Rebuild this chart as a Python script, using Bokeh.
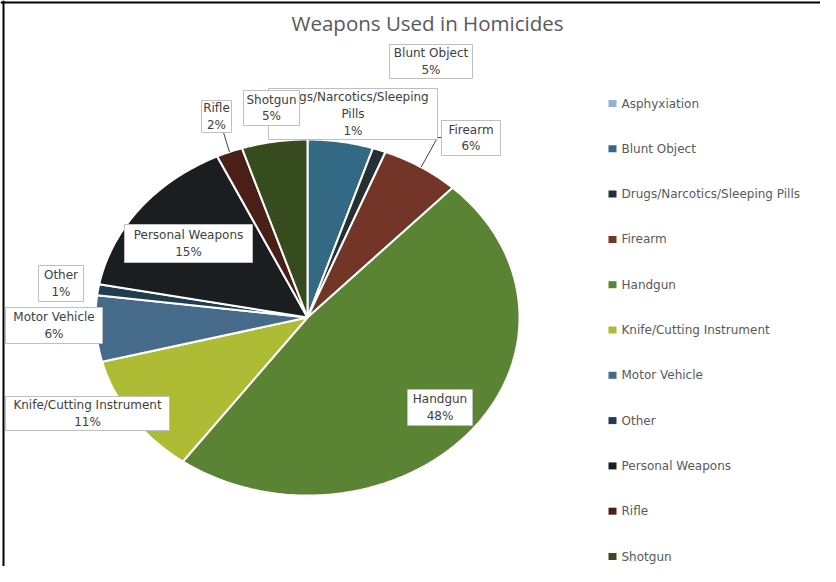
import numpy as np
from bokeh.plotting import figure
from bokeh.models import Range1d, Span
from bokeh.core.properties import value
from bokeh.embed import file_html
from bokeh.resources import INLINE

# ---------------- data ----------------
categories = ["Asphyxiation", "Blunt Object", "Drugs/Narcotics/Sleeping Pills", "Firearm",
              "Handgun", "Knife/Cutting Instrument", "Motor Vehicle", "Other",
              "Personal Weapons", "Rifle", "Shotgun"]
percents = [0, 5, 1, 6, 48, 11, 6, 1, 15, 2, 5]
colors = ["#93b4d0", "#336985", "#263034", "#733527", "#5a8433", "#adbb35",
          "#466a89", "#1f3d4f", "#1a1e20", "#4a1f17", "#364b1e"]
title_text = "Weapons Used in Homicides"

# ---------------- layout (reference pixel space) ----------------
W, H = 820, 566
OX, OY = 0, 0
CX, CY = 307, 317        # pie centre
RX, RY = 212, 178        # pie radii (the chart is stretched horizontally)


def X(rx):
    return (rx - CX) / RX


def Y(ry):
    return (CY - ry) / RY


p = figure(width=W, height=H, output_backend="svg", toolbar_location=None,
           x_range=Range1d(X(OX), X(OX + W)), y_range=Range1d(Y(OY + H), Y(OY)),
           x_axis_location=None, y_axis_location=None, min_border=0,
           background_fill_color="white", border_fill_color="white")
p.grid.visible = False
p.outline_line_color = None

# ---------------- pie slices ----------------
vals = np.array(percents, dtype=float)
ends = np.cumsum(vals) / vals.sum() * 2 * np.pi
starts = ends - vals / vals.sum() * 2 * np.pi
xs, ys = [], []
for a0, a1 in zip(starts, ends):
    n = max(2, int((a1 - a0) / (2 * np.pi) * 400) + 2)
    t = np.linspace(a0, a1, n)
    xs.append([0.0] + list(np.sin(t)))
    ys.append([0.0] + list(np.cos(t)))
p.patches(xs, ys, fill_color=colors, line_color="white", line_width=2)

mid = (starts + ends) / 2

# ---------------- data labels ----------------
label_font = value("DejaVu Sans")
boxes = {  # centre x, centre y, width, height  (reference pixels)
    "Blunt Object": (430.5, 61, 83, 34),
    "Firearm": (470.5, 137.5, 59, 35),
    "Handgun": (439.5, 407, 65, 36),
    "Knife/Cutting Instrument": (87, 413, 164, 34),
    "Motor Vehicle": (53.5, 325, 97, 36),
    "Other": (60.5, 283, 45, 36),
    "Personal Weapons": (188, 243, 128, 38),
    "Drugs/Narcotics/Sleeping Pills": (352.5, 113.5, 169, 51),
    "Shotgun": (271, 107.5, 56, 35),
    "Rifle": (216, 116, 30, 32),
}
wrapped = {"Drugs/Narcotics/Sleeping Pills": "Drugs/Narcotics/Sleeping\nPills"}

# leader lines (drawn beneath the boxes)
leaders = {"Rifle": [(223, 132)], "Firearm": [(441, 137), (437, 137)]}
for name, pts in leaders.items():
    i = categories.index(name)
    lx = [X(a) for a, b in pts] + [float(np.sin(mid[i]))]
    ly = [Y(b) for a, b in pts] + [float(np.cos(mid[i]))]
    p.line(lx, ly, line_color="#404040", line_width=1)

for name, (bx, by, bw, bh) in boxes.items():
    i = categories.index(name)
    txt = wrapped.get(name, name) + "\n" + f"{percents[i]:.0f}%"
    p.rect(x=[X(bx)], y=[Y(by)], width=bw, height=bh, width_units="screen",
           height_units="screen", fill_color="white", line_color="#bfbfbf", line_width=1)
    p.text(x=[X(bx)], y=[Y(by)], text=[txt], text_align="center", text_baseline="middle",
           text_font=label_font, text_font_size="12px", text_color="#404040",
           text_line_height=1.2)

# ---------------- legend ----------------
leg_x = 612
leg_y0 = 103
leg_pitch = 45.3
lyy = [Y(leg_y0 + k * leg_pitch) for k in range(len(categories))]
p.rect(x=[X(leg_x)] * len(categories), y=lyy, width=8, height=7, width_units="screen",
       height_units="screen", fill_color=colors, line_color=None)
p.text(x=[X(leg_x + 9)] * len(categories), y=lyy, text=categories, text_align="left",
       text_baseline="middle", text_font=label_font, text_font_size="12px",
       text_color="#595959")

# ---------------- title ----------------
p.text(x=[X(427)], y=[Y(22)], text=[title_text], text_align="center", text_baseline="middle",
       text_font=value("Open Sans"), text_font_size="20.5px", text_color="#595959")

# ---------------- frame lines (left & top) ----------------
p.add_layout(Span(location=X(3), dimension="height", line_color="black", line_width=2))
p.add_layout(Span(location=Y(2), dimension="width", line_color="black", line_width=2))

open("out.html", "w").write(file_html(p, INLINE))
